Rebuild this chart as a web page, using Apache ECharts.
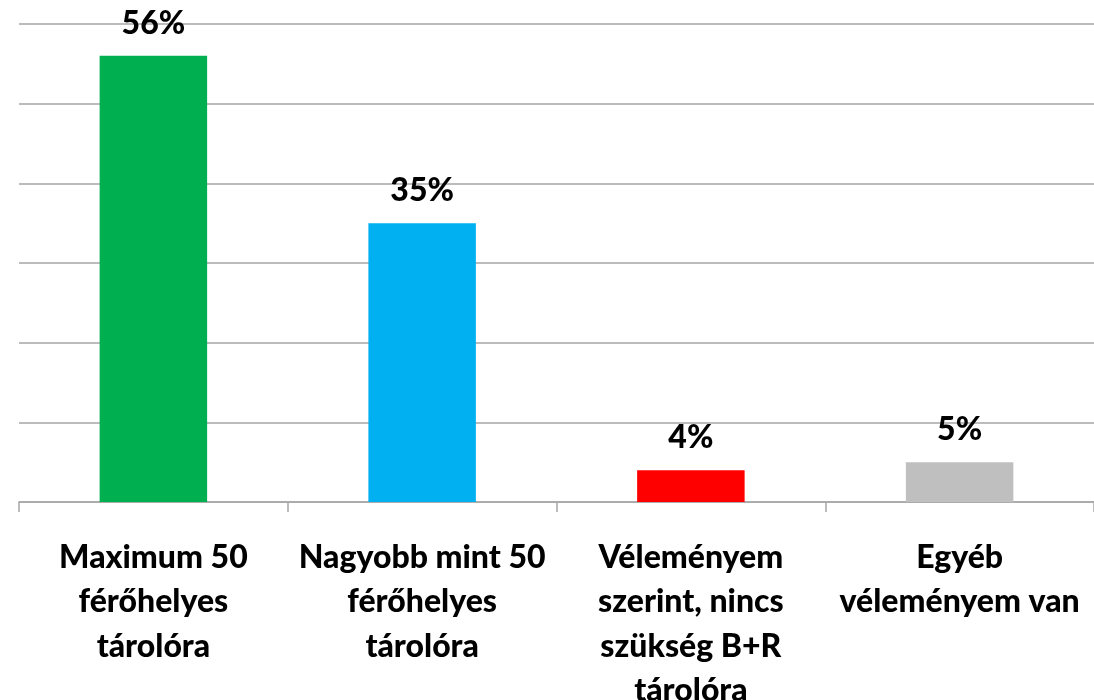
<!DOCTYPE html>
<html>
<head>
	<meta charset="utf-8">
	<title>B+R tároló</title>
	<script type="text/javascript" src="https://cdn.jsdelivr.net/npm/echarts@6/dist/echarts.min.js"></script>
	<style>
		html, body { margin: 0; padding: 0; background: #fff; }
		#main { width: 1094px; height: 700px; }
	</style>
</head>
<body>
	<div id="main"></div>
	<script type="text/javascript">
		// adatok
		var categories = [
			'Maximum 50\nférőhelyes\ntárolóra',
			'Nagyobb mint 50\nférőhelyes\ntárolóra',
			'Véleményem\nszerint, nincs\nszükség B+R\ntárolóra',
			'Egyéb\nvéleményem van'
		];
		var values = [56, 35, 4, 5];
		var colors = ['#00B050', '#00B0F0', '#FF0000', '#BFBFBF'];

		var myChart = echarts.init(document.getElementById('main'));
		var font = 'Lato, "Open Sans", sans-serif';

		var option = {
			animation: false,
			grid: { left: 19, right: 0, top: 24, bottom: 198, containLabel: false, outerBoundsMode: 'none' },
			xAxis: {
				type: 'category',
				data: categories,
				axisLine: { lineStyle: { color: '#A6A6A6', width: 1.5 } },
				axisTick: { show: true, length: 10, lineStyle: { color: '#A6A6A6', width: 1.5 } },
				axisLabel: {
					interval: 0,
					margin: 33,
					color: '#000',
					fontFamily: font,
					fontWeight: 900,
					fontSize: 32,
					lineHeight: 44.5
				}
			},
			yAxis: {
				type: 'value',
				min: 0,
				max: 60,
				interval: 10,
				axisLabel: { show: false },
				axisLine: { show: false },
				axisTick: { show: false },
				splitLine: { lineStyle: { color: '#A6A6A6', width: 1.5 } }
			},
			series: [{
				type: 'bar',
				barWidth: '40%',
				data: values.map(function (v, i) {
					return { value: v, itemStyle: { color: colors[i] } };
				}),
				label: {
					show: true,
					position: 'top',
					distance: 16,
					formatter: '{c}%',
					color: '#000',
					fontFamily: font,
					fontWeight: 900,
					fontSize: 32
				}
			}]
		};

		myChart.setOption(option);
	</script>
</body>
</html>
